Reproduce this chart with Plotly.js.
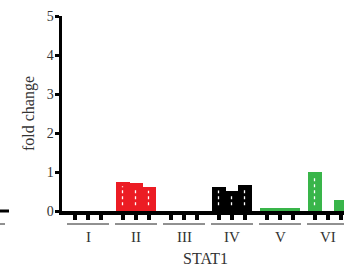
<!DOCTYPE html>
<html>
<head>
<meta charset="utf-8">
<script src="https://cdn.plot.ly/plotly-3.0.1.min.js"></script>
<style>
html,body{margin:0;padding:0;overflow:hidden;background:#fff;}
#chart{width:348px;height:270px;}
</style>
</head>
<body>
<div id="chart"></div>
<script>
// Data
var groups = ["I", "II", "III", "IV", "V", "VI"];
var groupColors = ["#ec1c24", "#ec1c24", "#000000", "#000000", "#39b54a", "#39b54a"];
var rep1 = [0, 0.75, 0, 0.62, 0.08, 1.00];
var rep2 = [0, 0.71, 0, 0.52, 0.08, 0.00];
var rep3 = [0, 0.61, 0, 0.66, 0.08, 0.28];
var yTicks = [0, 1, 2, 3, 4, 5];
var xTitle = "STAT1";
var yTitle = "fold change";

// Layout constants
var groupStep = 48, barStep = 13, barWidth = 13.4;
var series = [rep1, rep2, rep3];

var traces = [];
var xs = [], ys = [], cols = [];
var tickPos = [];
var lx = [], ly = [];
groups.forEach(function(g, gi){
  for (var b = 0; b < 3; b++){
    var x = gi*groupStep + b*barStep;
    var v = series[b][gi];
    xs.push(x); ys.push(v); cols.push(groupColors[gi]);
    tickPos.push(x);
    if (v >= 0.3){
      lx.push(x - 0.5, x - 0.5, null);
      ly.push(0.15, v*0.85, null);
    }
  }
});
traces.push({type:'bar', x:xs, y:ys, width:barWidth, marker:{color:cols, line:{width:0}}, hoverinfo:'skip'});
traces.push({type:'scatter', mode:'lines', x:lx, y:ly, line:{color:'#ffffff', width:1.3, dash:'dot'}, hoverinfo:'skip'});

var font = "Liberation Serif";
var shapes = [], annotations = [];
var underlineY = -13/195;
groups.forEach(function(g, gi){
  var c = gi*groupStep + barStep;
  shapes.push({type:'line', xref:'x', yref:'paper', x0:c-21, x1:c+21, y0:underlineY, y1:underlineY, line:{color:'#222', width:1}});
  annotations.push({xref:'x', yref:'paper', x:c, y:-26/195, text:g, showarrow:false, yanchor:'middle', font:{family:font, size:15, color:'#333'}});
});
// fragments of neighbouring panel at left edge
shapes.push({type:'line', xref:'paper', yref:'paper', x0:-62/286, x1:-53/286, y0:0, y1:0, line:{color:'#000', width:3}});
shapes.push({type:'line', xref:'paper', yref:'paper', x0:-62/286, x1:-57/286, y0:underlineY, y1:underlineY, line:{color:'#222', width:1}});
// x-axis title
annotations.push({xref:'paper', yref:'paper', x:0.5, y:-47/195, text:xTitle, showarrow:false, yanchor:'middle', font:{family:font, size:16, color:'#333'}});

var layout = {
  width:348, height:270,
  margin:{l:62, r:0, t:16, b:59},
  paper_bgcolor:'#fff', plot_bgcolor:'#fff',
  showlegend:false,
  bargap:0,
  xaxis:{range:[-13, 273], showgrid:false, zeroline:false, showline:true, linewidth:3.5, linecolor:'#000',
         ticks:'outside', ticklen:5, tickwidth:3.5, tickcolor:'#000', tickvals:tickPos, showticklabels:false,
         fixedrange:true},
  yaxis:{range:[0,5], showgrid:false, zeroline:false, showline:true, linewidth:3.5, linecolor:'#000',
         ticks:'outside', ticklen:4, tickwidth:3, tickcolor:'#000', tickvals:yTicks, ticklabelstandoff:-2,
         tickfont:{family:font, size:14, color:'#333'},
         title:{text:yTitle, font:{family:font, size:16, color:'#333'}, standoff:9}, fixedrange:true},
  shapes:shapes, annotations:annotations
};
Plotly.newPlot('chart', traces, layout, {displayModeBar:false, staticPlot:true});
</script>
</body>
</html>
